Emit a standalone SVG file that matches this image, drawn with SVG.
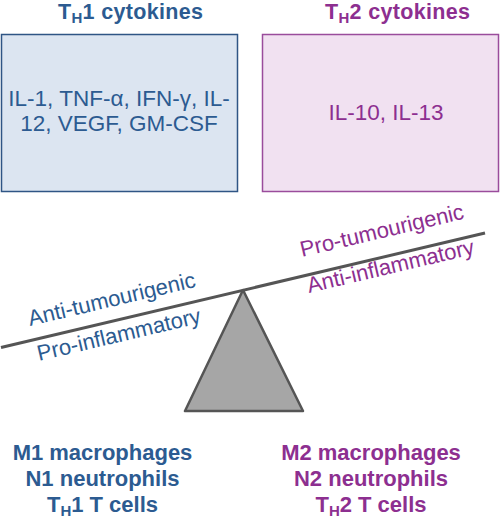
<svg xmlns="http://www.w3.org/2000/svg" width="500" height="523" viewBox="0 0 500 523">
<style>
text{font-family:"Liberation Sans",Arial,sans-serif;}
.b{fill:#2c5b91;}
.p{fill:#8d2f90;}
.bold{font-weight:bold;font-size:22px;}
.ttl{font-weight:bold;font-size:21.5px;}
.reg{font-size:22.5px;}
.ang{font-size:22px;}
</style>
<rect width="500" height="523" fill="#ffffff"/>
<g id="th1">
<text class="b ttl" x="58" y="18.5" textLength="145" lengthAdjust="spacing">T<tspan font-size="15" dy="4">H</tspan><tspan dy="-4">1 cytokines</tspan></text>
<rect x="1.5" y="34.5" width="236" height="157" fill="#dce5f1" stroke="#2f5585" stroke-width="1.5"/>
<text class="b reg" x="119" y="106" text-anchor="middle">IL-1, TNF-α, IFN-γ, IL-</text>
<text class="b reg" x="119" y="130.5" text-anchor="middle">12, VEGF, GM-CSF</text>
</g>
<g id="th2">
<text class="p ttl" x="325" y="18.5" textLength="145" lengthAdjust="spacing">T<tspan font-size="15" dy="4">H</tspan><tspan dy="-4">2 cytokines</tspan></text>
<rect x="262.5" y="34.5" width="236" height="157" fill="#f1e1f1" stroke="#9a4c9c" stroke-width="1.5"/>
<text class="p reg" x="386" y="120" text-anchor="middle">IL-10, IL-13</text>
</g>
<g id="connectors">
<line x1="1" y1="347.5" x2="485" y2="233" stroke="#555555" stroke-width="3"/>
</g>
<g id="fulcrum">
<polygon points="243,290 185,411 303,411" fill="#a6a6a6" stroke="#555555" stroke-width="2.5" stroke-linejoin="round"/>
</g>
<g id="labels">
<text class="b ang" transform="translate(30,326) rotate(-13.3)">Anti-tumourigenic</text>
<text class="b ang" transform="translate(39,361) rotate(-13.3)">Pro-inflammatory</text>
<text class="p ang" transform="translate(302,257) rotate(-13.3)">Pro-tumourigenic</text>
<text class="p ang" transform="translate(309,293) rotate(-13.3)">Anti-inflammatory</text>
</g>
<g id="left-cells">
<text class="b bold" x="102.5" y="460" text-anchor="middle">M1 macrophages</text>
<text class="b bold" x="102.5" y="486" text-anchor="middle">N1 neutrophils</text>
<text class="b bold" x="102.5" y="511.5" text-anchor="middle">T<tspan font-size="15" dy="4">H</tspan><tspan dy="-4">1 T cells</tspan></text>
</g>
<g id="right-cells">
<text class="p bold" x="371" y="460" text-anchor="middle">M2 macrophages</text>
<text class="p bold" x="371" y="486" text-anchor="middle">N2 neutrophils</text>
<text class="p bold" x="371" y="511.5" text-anchor="middle">T<tspan font-size="15" dy="4">H</tspan><tspan dy="-4">2 T cells</tspan></text>
</g>
</svg>
